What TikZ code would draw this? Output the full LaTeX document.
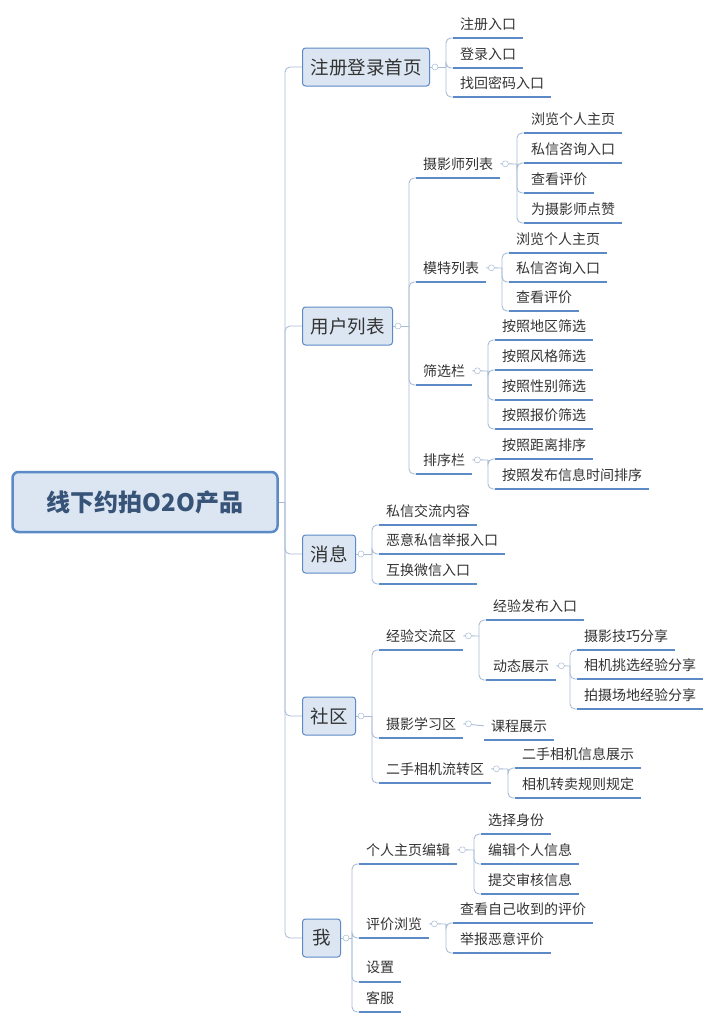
\documentclass[tikz,border=0pt]{standalone}
\usepackage{fontspec}
\setmainfont{Noto Sans CJK SC}
\definecolor{mapblue}{HTML}{5B8AC6}
\definecolor{mapfill}{HTML}{DCE6F2}
\definecolor{mapline}{HTML}{A9BCD6}
\definecolor{maptext}{HTML}{333333}
\tikzset{
  rootbox/.style={draw=mapblue,fill=mapfill,line width=2.5pt,rounded corners=6pt,minimum width=265pt,minimum height=60pt,font=\fontsize{24}{28}\selectfont\bfseries,text=mapblue!60!black},
  topicbox/.style={draw=mapblue,fill=mapfill,line width=1pt,rounded corners=3pt,minimum height=38pt,minimum width=38pt,inner xsep=8pt,anchor=west,font=\fontsize{18.5}{22}\selectfont,text=maptext},
  leaf/.style={anchor=south west,minimum height=28pt,inner ysep=0pt,inner xsep=7pt,font=\fontsize{14}{16}\selectfont,text=maptext,
    append after command={\pgfextra{\draw[mapblue,line width=1.6pt] (\tikzlastnode.south west) -- (\tikzlastnode.south east);}}},
  conn/.style={mapline,line width=0.9pt,rounded corners=5pt},
  fold/.style={circle,draw=mapline,fill=white,inner sep=0pt,minimum size=6pt,line width=0.5pt}
}
\begin{document}
\begin{tikzpicture}[x=1pt,y=-1pt]
\useasboundingbox (0,0) rectangle (720,1023);
% root and main topics
\node[rootbox] (root) at (145,502) {线下约拍O2O产品};
\node[topicbox] (reg) at (302,67) {注册登录首页};
\node[topicbox] (users) at (302,326) {用户列表};
\node[topicbox] (msg) at (302,554) {消息};
\node[topicbox] (comm) at (302,716) {社区};
\node[topicbox] (me) at (302,938) {我};
\coordinate (tr) at (285,502);
\draw[conn] (root.east) -- (tr);
\foreach \t in {reg,users,msg,comm,me}
  \draw[conn] (tr) |- (\t.west);
% 注册登录首页
\node[leaf] (reg1) at (453,38) {注册入口};
\node[leaf] (reg2) at (453,68) {登录入口};
\node[leaf] (reg3) at (453,97) {找回密码入口};
\coordinate (regb) at (446,67);
\draw[conn] (reg.east) -- (regb);
\foreach \c in {reg1,reg2,reg3} \draw[conn] (regb) |- (\c.south west);
% 用户列表
\node[leaf] (ph) at (416,178) {摄影师列表};
\node[leaf] (mo) at (416,282) {模特列表};
\node[leaf] (fi) at (416,385) {筛选栏};
\node[leaf] (so) at (416,474) {排序栏};
\coordinate (usb) at (409,326);
\draw[conn] (users.east) -- (usb);
\foreach \c in {ph,mo,fi,so} \draw[conn] (usb) |- (\c.south west);
\node[leaf] (ph1) at (524,133) {浏览个人主页};
\node[leaf] (ph2) at (524,163) {私信咨询入口};
\node[leaf] (ph3) at (524,193) {查看评价};
\node[leaf] (ph4) at (524,223) {为摄影师点赞};
\coordinate (phb) at (517,164);
\draw[conn] (ph.east) -- (phb);
\foreach \c in {ph1,ph2,ph3,ph4} \draw[conn] (phb) |- (\c.south west);
\node[leaf] (mo1) at (509,253) {浏览个人主页};
\node[leaf] (mo2) at (509,282) {私信咨询入口};
\node[leaf] (mo3) at (509,311) {查看评价};
\coordinate (mob) at (502,268);
\draw[conn] (mo.east) -- (mob);
\foreach \c in {mo1,mo2,mo3} \draw[conn] (mob) |- (\c.south west);
\node[leaf] (fi1) at (495,340) {按照地区筛选};
\node[leaf] (fi2) at (495,370) {按照风格筛选};
\node[leaf] (fi3) at (495,400) {按照性别筛选};
\node[leaf] (fi4) at (495,429) {按照报价筛选};
\coordinate (fib) at (488,371);
\draw[conn] (fi.east) -- (fib);
\foreach \c in {fi1,fi2,fi3,fi4} \draw[conn] (fib) |- (\c.south west);
\node[leaf] (so1) at (495,459) {按照距离排序};
\node[leaf] (so2) at (495,489) {按照发布信息时间排序};
\coordinate (sob) at (488,460);
\draw[conn] (so.east) -- (sob);
\foreach \c in {so1,so2} \draw[conn] (sob) |- (\c.south west);
% 消息
\node[leaf] (msg1) at (379,525) {私信交流内容};
\node[leaf] (msg2) at (379,554) {恶意私信举报入口};
\node[leaf] (msg3) at (379,584) {互换微信入口};
\coordinate (msgb) at (372,554);
\draw[conn] (msg.east) -- (msgb);
\foreach \c in {msg1,msg2,msg3} \draw[conn] (msgb) |- (\c.south west);
% 社区
\node[leaf] (ex) at (379,650) {经验交流区};
\node[leaf] (le) at (379,738) {摄影学习区};
\node[leaf] (cam) at (379,783) {二手相机流转区};
\coordinate (cob) at (372,716);
\draw[conn] (comm.east) -- (cob);
\foreach \c in {ex,le,cam} \draw[conn] (cob) |- (\c.south west);
\node[leaf] (ex1) at (486,620) {经验发布入口};
\node[leaf] (ex2) at (486,680) {动态展示};
\coordinate (exb) at (479,636);
\draw[conn] (ex.east) -- (exb);
\foreach \c in {ex1,ex2} \draw[conn] (exb) |- (\c.south west);
\node[leaf] (dy1) at (577,650) {摄影技巧分享};
\node[leaf] (dy2) at (577,679) {相机挑选经验分享};
\node[leaf] (dy3) at (577,709) {拍摄场地经验分享};
\coordinate (dyb) at (570,666);
\draw[conn] (ex2.east) -- (dyb);
\foreach \c in {dy1,dy2,dy3} \draw[conn] (dyb) |- (\c.south west);
\node[leaf] (le1) at (484,740) {课程展示};
\draw[conn] (le.east) -- (le1.west);
\node[leaf] (cam1) at (515,768) {二手相机信息展示};
\node[leaf] (cam2) at (515,798) {相机转卖规则规定};
\coordinate (camb) at (508,769);
\draw[conn] (cam.east) -- (camb);
\foreach \c in {cam1,cam2} \draw[conn] (camb) |- (\c.south west);
% 我
\node[leaf] (pe) at (359,864) {个人主页编辑};
\node[leaf] (ev) at (359,938) {评价浏览};
\node[leaf] (se) at (359,982) {设置};
\node[leaf] (cs) at (359,1012) {客服};
\coordinate (meb) at (352,938);
\draw[conn] (me.east) -- (meb);
\foreach \c in {pe,ev,se,cs} \draw[conn] (meb) |- (\c.south west);
\node[leaf] (pe1) at (481,834) {选择身份};
\node[leaf] (pe2) at (481,864) {编辑个人信息};
\node[leaf] (pe3) at (481,894) {提交审核信息};
\coordinate (peb) at (474,850);
\draw[conn] (pe.east) -- (peb);
\foreach \c in {pe1,pe2,pe3} \draw[conn] (peb) |- (\c.south west);
\node[leaf] (ev1) at (453,923) {查看自己收到的评价};
\node[leaf] (ev2) at (453,953) {举报恶意评价};
\coordinate (evb) at (446,924);
\draw[conn] (ev.east) -- (evb);
\foreach \c in {ev1,ev2} \draw[conn] (evb) |- (\c.south west);
% fold markers
\foreach \p in {reg,users,msg,comm,me,ph,mo,fi,so,ex,ex2,le,cam,pe,ev}
  \node[fold] at ([xshift=5pt]\p.east) {};
\end{tikzpicture}
\end{document}
